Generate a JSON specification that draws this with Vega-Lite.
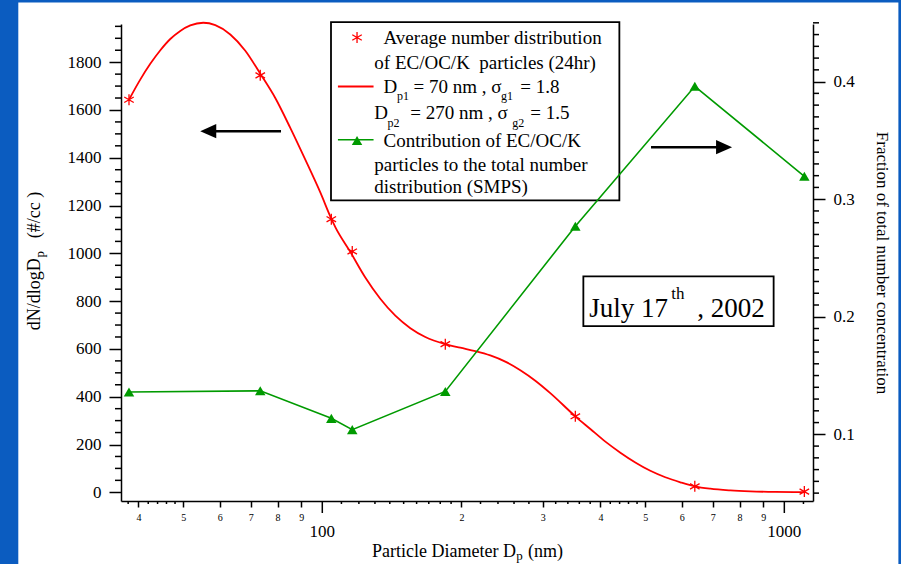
{
  "$schema": "https://vega.github.io/schema/vega-lite/v6.json",
  "width": 692,
  "height": 477,
  "autosize": {"type": "none"},
  "padding": {"left": 121, "top": 24, "right": 88, "bottom": 63},
  "background": "#0B5CC0",
  "config": {
    "view": {"stroke": null},
    "font": "Liberation Serif",
    "axis": {"grid": false, "domainColor": "black", "tickColor": "black", "labelColor": "black", "titleColor": "black", "labelFont": "Liberation Serif", "titleFont": "Liberation Serif", "titleFontWeight": "normal", "domainWidth": 1.5, "tickWidth": 1.5, "labelOverlap": false, "labelFlush": false, "labelBound": false}
  },
  "datasets": {
    "curve": [
      {"dp": 38.16, "n": 1643}, {"dp": 40.36, "n": 1727}, {"dp": 42.43, "n": 1793}, {"dp": 44.61, "n": 1850},
      {"dp": 46.88, "n": 1897}, {"dp": 49.27, "n": 1931}, {"dp": 51.8, "n": 1954}, {"dp": 55.26, "n": 1965},
      {"dp": 58.67, "n": 1955}, {"dp": 63.22, "n": 1916}, {"dp": 68.13, "n": 1848}, {"dp": 73.4, "n": 1752},
      {"dp": 79.11, "n": 1650}, {"dp": 85.25, "n": 1525}, {"dp": 91.88, "n": 1392}, {"dp": 99.01, "n": 1255},
      {"dp": 104.6, "n": 1145}, {"dp": 106.7, "n": 1110}, {"dp": 115.0, "n": 1006}, {"dp": 123.9, "n": 899},
      {"dp": 133.5, "n": 810}, {"dp": 143.9, "n": 739}, {"dp": 155.1, "n": 687}, {"dp": 167.1, "n": 650},
      {"dp": 184.6, "n": 620}, {"dp": 198.9, "n": 605}, {"dp": 214.4, "n": 591}, {"dp": 231.0, "n": 573},
      {"dp": 248.9, "n": 547}, {"dp": 268.3, "n": 511}, {"dp": 289.1, "n": 467}, {"dp": 311.5, "n": 415},
      {"dp": 352.9, "n": 318}, {"dp": 380.3, "n": 265}, {"dp": 409.9, "n": 212}, {"dp": 441.7, "n": 166},
      {"dp": 475.9, "n": 125}, {"dp": 512.8, "n": 90}, {"dp": 552.6, "n": 63}, {"dp": 595.6, "n": 42},
      {"dp": 640.1, "n": 25}, {"dp": 691.3, "n": 15}, {"dp": 764.0, "n": 8}, {"dp": 844.1, "n": 4},
      {"dp": 956.2, "n": 1.5}, {"dp": 1104.9, "n": 0.5}
    ],
    "meas": [
      {"dp": 38.16, "n": 1643, "frac": 0.136},
      {"dp": 73.4, "n": 1745, "frac": 0.137},
      {"dp": 104.6, "n": 1143, "frac": 0.1136},
      {"dp": 116.1, "n": 1008, "frac": 0.104},
      {"dp": 184.6, "n": 620, "frac": 0.1365},
      {"dp": 352.9, "n": 318, "frac": 0.277},
      {"dp": 640.1, "n": 25, "frac": 0.396},
      {"dp": 1104.9, "n": 3, "frac": 0.3195}
    ],
    "yminor": [
      {"v": 50}, {"v": 100}, {"v": 150}, {"v": 250}, {"v": 300}, {"v": 350}, {"v": 450}, {"v": 500}, {"v": 550},
      {"v": 650}, {"v": 700}, {"v": 750}, {"v": 850}, {"v": 900}, {"v": 950}, {"v": 1050}, {"v": 1100}, {"v": 1150},
      {"v": 1250}, {"v": 1300}, {"v": 1350}, {"v": 1450}, {"v": 1500}, {"v": 1550}, {"v": 1650}, {"v": 1700}, {"v": 1750},
      {"v": 1850}, {"v": 1900}, {"v": 1950}
    ],
    "rminor": [
      {"f": 0.05}, {"f": 0.06}, {"f": 0.07}, {"f": 0.08}, {"f": 0.09},
      {"f": 0.11}, {"f": 0.12}, {"f": 0.13}, {"f": 0.14}, {"f": 0.15}, {"f": 0.16}, {"f": 0.17}, {"f": 0.18}, {"f": 0.19},
      {"f": 0.21}, {"f": 0.22}, {"f": 0.23}, {"f": 0.24}, {"f": 0.25}, {"f": 0.26}, {"f": 0.27}, {"f": 0.28}, {"f": 0.29},
      {"f": 0.31}, {"f": 0.32}, {"f": 0.33}, {"f": 0.34}, {"f": 0.35}, {"f": 0.36}, {"f": 0.37}, {"f": 0.38}, {"f": 0.39},
      {"f": 0.41}, {"f": 0.42}, {"f": 0.43}, {"f": 0.44}, {"f": 0.45}
    ],
    "xminor": [
      {"d": 38}, {"d": 42}, {"d": 44}, {"d": 46}, {"d": 48},
      {"d": 110}, {"d": 120}, {"d": 130}, {"d": 140}, {"d": 150}, {"d": 160}, {"d": 170}, {"d": 180}, {"d": 190},
      {"d": 220}, {"d": 240}, {"d": 260}, {"d": 280}, {"d": 320}, {"d": 340}, {"d": 360}, {"d": 380},
      {"d": 420}, {"d": 440}, {"d": 460}, {"d": 480}, {"d": 1100}
    ],
    "xmajor": [{"d": 100, "t": "100"}, {"d": 1000, "t": "1000"}],
    "arrows": [
      {"a": 81.4, "b": 57.8, "y": 1511.3},
      {"a": 514.6, "b": 727.0, "y": 1444.4}
    ],
    "legtext": [
      {"x": 135.7, "y": 1876.9, "t": "Average number distribution"},
      {"x": 129.6, "y": 1772.4, "t": "of EC/OC/K\u00a0 particles (24hr)"},
      {"x": 135.7, "y": 1670.3, "t": "D"},
      {"x": 157.6, "y": 1670.3, "t": "= 70 nm , σ"},
      {"x": 268.3, "y": 1670.3, "t": "= 1.8"},
      {"x": 129.6, "y": 1560.3, "t": "D"},
      {"x": 155.1, "y": 1560.3, "t": "= 270 nm , σ"},
      {"x": 282.0, "y": 1560.3, "t": "= 1.5"},
      {"x": 135.7, "y": 1444.4, "t": "Contribution of EC/OC/K"},
      {"x": 129.6, "y": 1344.0, "t": "particles to the total number"},
      {"x": 129.6, "y": 1253.6, "t": "distribution (SMPS)"}
    ],
    "legsub": [
      {"x": 145.1, "y": 1639.8, "t": "p1"},
      {"x": 243.6, "y": 1639.8, "t": "g1"},
      {"x": 138.4, "y": 1528.1, "t": "p2"},
      {"x": 257.8, "y": 1528.1, "t": "g2"}
    ],
    "datebig": [
      {"x": 378.4, "y": 732.0, "t": "July 17"},
      {"x": 648.2, "y": 732.0, "t": ", 2002"}
    ],
    "datesup": [{"x": 569.4, "y": 807.3, "t": "th"}],
    "xtitle": [
      {"x": 128.1, "y": -271.9, "t": "Particle Diameter D"},
      {"x": 278.8, "y": -271.9, "t": "(nm)"}
    ],
    "xsub": [{"x": 263.0, "y": -284.4, "t": "p"}],
    "ytitle": [
      {"x": 24.5, "y": 677.7, "t": "dN/dlogD"},
      {"x": 24.5, "y": 1063.0, "t": "(#/cc )"}
    ],
    "ysub": [{"x": 25.0, "y": 983.0, "t": "p"}]
  },
  "layer": [
    {
      "layer": [
        {
          "data": {"values": [{}]},
          "mark": {"type": "rect", "fill": "white"},
          "encoding": {
            "x": {"datum": 21.98, "type": "quantitative"},
            "x2": {"datum": 1765.5},
            "y": {"datum": 2049.7, "type": "quantitative"},
            "y2": {"datum": -320}
          }
        },
        {
          "data": {"values": [{}]},
          "mark": {"type": "rect", "fill": "white", "stroke": "black", "strokeWidth": 1.8},
          "encoding": {
            "x": {"datum": 104.43, "type": "quantitative"},
            "x2": {"datum": 439.5},
            "y": {"datum": 1967.3, "type": "quantitative"},
            "y2": {"datum": 1221.5}
          }
        },
        {
          "data": {"values": [{}]},
          "mark": {"type": "rect", "fill": "white", "stroke": "black", "strokeWidth": 1.8},
          "encoding": {
            "x": {"datum": 367.3, "type": "quantitative"},
            "x2": {"datum": 948.1},
            "y": {"datum": 903.5, "type": "quantitative"},
            "y2": {"datum": 695.6}
          }
        },
        {
          "data": {"name": "curve"},
          "mark": {"type": "line", "color": "#FF0000", "strokeWidth": 1.8, "interpolate": "monotone"},
          "encoding": {
            "x": {
              "field": "dp", "type": "quantitative",
              "scale": {"type": "log", "domain": [36.67, 1153.6], "nice": false},
              "axis": {
                "orient": "bottom", "title": null, "zindex": 2, "tickCount": 100,
                "values": [40, 50, 60, 70, 80, 90, 200, 300, 400, 500, 600, 700, 800, 900],
                "labelExpr": "datum.value < 100 ? format(datum.value / 10, 'd') : format(datum.value / 100, 'd')",
                "tickSize": 6,
                "labelPadding": 5,
                "labelFontSize": 10
              }
            },
            "y": {
              "field": "n", "type": "quantitative",
              "scale": {"domain": [-36.4, 1959.8], "nice": false, "zero": false},
              "axis": {
                "orient": "left", "title": null, "zindex": 2, "tickCount": 100,
                "values": [0, 200, 400, 600, 800, 1000, 1200, 1400, 1600, 1800],
                "format": "d",
                "tickSize": 12,
                "labelPadding": 8,
                "labelFontSize": 17
              }
            }
          }
        },
        {
          "data": {"name": "yminor"},
          "mark": {"type": "rule", "color": "black", "strokeWidth": 1.5},
          "encoding": {
            "x": {"datum": 35.59, "type": "quantitative"},
            "x2": {"datum": 36.67},
            "y": {"field": "v", "type": "quantitative"}
          }
        },
        {
          "data": {"name": "xminor"},
          "mark": {"type": "rule", "color": "black", "strokeWidth": 1.5},
          "encoding": {
            "x": {"field": "d", "type": "quantitative"},
            "y": {"datum": -36.4, "type": "quantitative"},
            "y2": {"datum": -48.96}
          }
        },
        {
          "data": {"name": "xmajor"},
          "mark": {"type": "rule", "color": "black", "strokeWidth": 1.5},
          "encoding": {
            "x": {"field": "d", "type": "quantitative"},
            "y": {"datum": -36.4, "type": "quantitative"},
            "y2": {"datum": -86.6}
          }
        },
        {
          "data": {"name": "xmajor"},
          "mark": {"type": "text", "align": "center", "baseline": "alphabetic", "fontSize": 17, "font": "Liberation Serif", "color": "black"},
          "encoding": {
            "x": {"field": "d", "type": "quantitative"},
            "y": {"datum": -187.1, "type": "quantitative"},
            "text": {"field": "t"}
          }
        },
        {
          "data": {"name": "meas"},
          "mark": {"type": "point", "shape": "M0,-1L0,1M-0.87,-0.5L0.87,0.5M-0.87,0.5L0.87,-0.5", "filled": false, "stroke": "#FF0000", "strokeWidth": 1.3, "size": 120, "opacity": 1},
          "encoding": {
            "x": {"field": "dp", "type": "quantitative"},
            "y": {"field": "n", "type": "quantitative"}
          }
        },
        {
          "data": {"values": [{}]},
          "mark": {"type": "point", "shape": "M0,-1L0,1M-0.87,-0.5L0.87,0.5M-0.87,0.5L0.87,-0.5", "filled": false, "stroke": "#FF0000", "strokeWidth": 1.3, "size": 120, "opacity": 1},
          "encoding": {
            "x": {"datum": 118.9, "type": "quantitative"},
            "y": {"datum": 1903.3, "type": "quantitative"}
          }
        },
        {
          "data": {"values": [{}]},
          "mark": {"type": "rule", "color": "#FF0000", "strokeWidth": 1.8},
          "encoding": {
            "x": {"datum": 108.1, "type": "quantitative"},
            "x2": {"datum": 129.1},
            "y": {"datum": 1698.3, "type": "quantitative"}
          }
        },
        {
          "data": {"values": [{}]},
          "mark": {"type": "rule", "color": "#009A00", "strokeWidth": 1.6},
          "encoding": {
            "x": {"datum": 108.1, "type": "quantitative"},
            "x2": {"datum": 129.1},
            "y": {"datum": 1475.4, "type": "quantitative"}
          }
        },
        {
          "data": {"values": [{}]},
          "mark": {"type": "point", "shape": "triangle-up", "filled": true, "color": "#009A00", "size": 110, "opacity": 1},
          "encoding": {
            "x": {"datum": 118.9, "type": "quantitative"},
            "y": {"datum": 1472.4, "type": "quantitative"}
          }
        },
        {
          "data": {"name": "arrows"},
          "mark": {"type": "rule", "color": "black", "strokeWidth": 2.5},
          "encoding": {
            "x": {"field": "a", "type": "quantitative"},
            "x2": {"field": "b"},
            "y": {"field": "y", "type": "quantitative"}
          }
        },
        {
          "data": {"values": [{}]},
          "mark": {"type": "point", "shape": "M-1,0L1,-0.9L1,0.9Z", "filled": true, "color": "black", "size": 256, "opacity": 1},
          "encoding": {
            "x": {"datum": 56.64, "type": "quantitative"},
            "y": {"datum": 1511.3, "type": "quantitative"}
          }
        },
        {
          "data": {"values": [{}]},
          "mark": {"type": "point", "shape": "M1,0L-1,-0.9L-1,0.9Z", "filled": true, "color": "black", "size": 256, "opacity": 1},
          "encoding": {
            "x": {"datum": 740.6, "type": "quantitative"},
            "y": {"datum": 1444.4, "type": "quantitative"}
          }
        },
        {
          "data": {"name": "legtext"},
          "mark": {"type": "text", "align": "left", "baseline": "alphabetic", "fontSize": 19, "font": "Liberation Serif", "color": "black"},
          "encoding": {
            "x": {"field": "x", "type": "quantitative"},
            "y": {"field": "y", "type": "quantitative"},
            "text": {"field": "t"}
          }
        },
        {
          "data": {"name": "legsub"},
          "mark": {"type": "text", "align": "left", "baseline": "alphabetic", "fontSize": 12, "font": "Liberation Serif", "color": "black"},
          "encoding": {
            "x": {"field": "x", "type": "quantitative"},
            "y": {"field": "y", "type": "quantitative"},
            "text": {"field": "t"}
          }
        },
        {
          "data": {"name": "datebig"},
          "mark": {"type": "text", "align": "left", "baseline": "alphabetic", "fontSize": 27, "font": "Liberation Serif", "color": "black"},
          "encoding": {
            "x": {"field": "x", "type": "quantitative"},
            "y": {"field": "y", "type": "quantitative"},
            "text": {"field": "t"}
          }
        },
        {
          "data": {"name": "datesup"},
          "mark": {"type": "text", "align": "left", "baseline": "alphabetic", "fontSize": 17, "font": "Liberation Serif", "color": "black"},
          "encoding": {
            "x": {"field": "x", "type": "quantitative"},
            "y": {"field": "y", "type": "quantitative"},
            "text": {"field": "t"}
          }
        },
        {
          "data": {"name": "xtitle"},
          "mark": {"type": "text", "align": "left", "baseline": "alphabetic", "fontSize": 18, "font": "Liberation Serif", "color": "black"},
          "encoding": {
            "x": {"field": "x", "type": "quantitative"},
            "y": {"field": "y", "type": "quantitative"},
            "text": {"field": "t"}
          }
        },
        {
          "data": {"name": "xsub"},
          "mark": {"type": "text", "align": "left", "baseline": "alphabetic", "fontSize": 13, "font": "Liberation Serif", "color": "black"},
          "encoding": {
            "x": {"field": "x", "type": "quantitative"},
            "y": {"field": "y", "type": "quantitative"},
            "text": {"field": "t"}
          }
        },
        {
          "data": {"name": "ytitle"},
          "mark": {"type": "text", "align": "left", "baseline": "alphabetic", "angle": 270, "fontSize": 18, "font": "Liberation Serif", "color": "black"},
          "encoding": {
            "x": {"field": "x", "type": "quantitative"},
            "y": {"field": "y", "type": "quantitative"},
            "text": {"field": "t"}
          }
        },
        {
          "data": {"name": "ysub"},
          "mark": {"type": "text", "align": "left", "baseline": "alphabetic", "angle": 270, "fontSize": 13, "font": "Liberation Serif", "color": "black"},
          "encoding": {
            "x": {"field": "x", "type": "quantitative"},
            "y": {"field": "y", "type": "quantitative"},
            "text": {"field": "t"}
          }
        }
      ]
    },
    {
      "layer": [
        {
          "data": {"name": "meas"},
          "mark": {"type": "line", "color": "#009A00", "strokeWidth": 1.6},
          "encoding": {
            "x": {"field": "dp", "type": "quantitative"},
            "y": {
              "field": "frac", "type": "quantitative",
              "scale": {"domain": [0.0433, 0.449], "nice": false, "zero": false},
              "axis": {
                "orient": "right", "zindex": 2, "tickCount": 100,
                "title": "Fraction of total number concentration",
                "titleFontSize": 17,
                "titlePadding": 18,
                "values": [0.1, 0.2, 0.3, 0.4],
                "format": ".1f",
                "tickSize": 12,
                "labelPadding": 8,
                "labelFontSize": 17
              }
            }
          }
        },
        {
          "data": {"name": "meas"},
          "mark": {"type": "point", "shape": "triangle-up", "filled": true, "color": "#009A00", "size": 110, "opacity": 1},
          "encoding": {
            "x": {"field": "dp", "type": "quantitative"},
            "y": {"field": "frac", "type": "quantitative"}
          }
        },
        {
          "data": {"name": "rminor"},
          "mark": {"type": "rule", "color": "black", "strokeWidth": 1.5},
          "encoding": {
            "x": {"datum": 1153.6, "type": "quantitative"},
            "x2": {"datum": 1188.6},
            "y": {"field": "f", "type": "quantitative"}
          }
        }
      ]
    }
  ],
  "resolve": {"scale": {"y": "independent"}}
}
